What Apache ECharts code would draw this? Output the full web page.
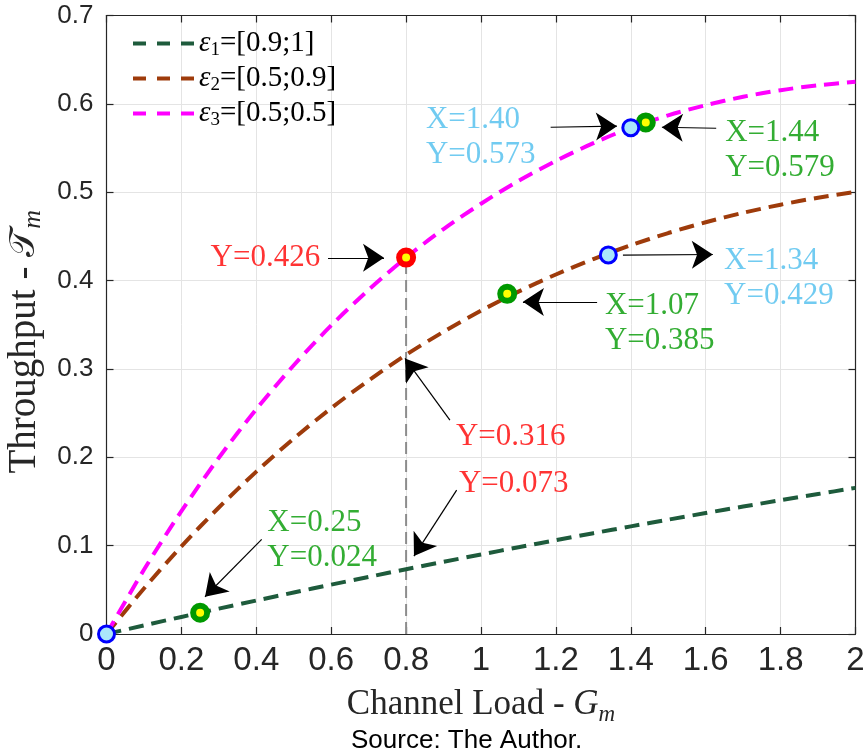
<!DOCTYPE html>
<html>
<head>
<meta charset="utf-8">
<script src="https://cdn.jsdelivr.net/npm/echarts@6/dist/echarts.min.js"></script>
<style>
  html, body { margin: 0; padding: 0; background: #ffffff; }
  #chart { width: 864px; height: 756px; }
</style>
</head>
<body>
<div id="chart"></div>
<script>
// Channel load samples (G_m) shared by the three throughput curves
const channelLoad = [0, 0.1, 0.2, 0.3, 0.4, 0.5, 0.6, 0.7, 0.8, 0.9, 1.0,
                     1.1, 1.2, 1.3, 1.4, 1.5, 1.6, 1.7, 1.8, 1.9, 2.0];

// Throughput T_m for each epsilon range
const throughputEps1 = [0, 0.0097, 0.0193, 0.0287, 0.0379, 0.0470, 0.0559, 0.0646, 0.0733, 0.0817, 0.0900,
                        0.0982, 0.1062, 0.1141, 0.1218, 0.1294, 0.1369, 0.1442, 0.1514, 0.1584, 0.1654];
const throughputEps2 = [0, 0.0515, 0.0992, 0.1432, 0.1838, 0.2212, 0.2556, 0.2870, 0.3160, 0.3421, 0.3659,
                        0.3875, 0.4069, 0.4244, 0.4400, 0.4538, 0.4660, 0.4767, 0.4859, 0.4938, 0.5004];
const throughputEps3 = [0, 0.0727, 0.1391, 0.1995, 0.2544, 0.3042, 0.3492, 0.3896, 0.4260, 0.4583, 0.4870,
                        0.5128, 0.5355, 0.5555, 0.5730, 0.5870, 0.5985, 0.6080, 0.6155, 0.6210, 0.6250];

const seriesNames = ['ε1=[0.9;1]', 'ε2=[0.5;0.9]', 'ε3=[0.5;0.5]'];

// Highlighted operating points
const greenPoints = [[0.25, 0.024], [1.07, 0.385], [1.44, 0.579]];
const bluePoints  = [[0, 0], [1.34, 0.429], [1.40, 0.573]];
const redPoints   = [[0.8, 0.426]];

// Vertical guide at G = 0.8
const guideLoad = 0.8;
const guideTop = 0.426;

// Tick labels
const xTicks = [0, 0.2, 0.4, 0.6, 0.8, 1, 1.2, 1.4, 1.6, 1.8, 2];
const yTicks = [0, 0.1, 0.2, 0.3, 0.4, 0.5, 0.6, 0.7];

const C = {
  eps1: '#1e5b3c', eps2: '#9e3b0b', eps3: '#ff00ff',
  green: '#009900', red: '#ff0000', lightBlue: '#4dbeee',
  axis: '#262626', grid: '#e4e4e4'
};

// Callouts: text block (left edge, vertical centre) and arrow tail -> tip, in data units
const callouts = [
  { lines: ['X=1.40', 'Y=0.573'], color: C.lightBlue, at: [0.853, 0.562], from: [1.186, 0.5735], to: [1.363, 0.5747] },
  { lines: ['X=1.44', 'Y=0.579'], color: C.green,     at: [1.652, 0.547], from: [1.628, 0.5724], to: [1.483, 0.5735] },
  { lines: ['Y=0.426'],           color: C.red,       at: [0.278, 0.4257], from: [0.5915, 0.4257], to: [0.741, 0.4257] },
  { lines: ['X=1.07', 'Y=0.385'], color: C.green,     at: [1.331, 0.3515], from: [1.310, 0.3756], to: [1.112, 0.3759] },
  { lines: ['X=1.34', 'Y=0.429'], color: C.lightBlue, at: [1.649, 0.4024], from: [1.379, 0.4287], to: [1.619, 0.4295] },
  { lines: ['Y=0.316'],           color: C.red,       at: [0.933, 0.2235], from: [0.917, 0.2421], to: [0.797, 0.3119] },
  { lines: ['Y=0.073'],           color: C.red,       at: [0.941, 0.1695], from: [0.935, 0.1629], to: [0.821, 0.0882] },
  { lines: ['X=0.25', 'Y=0.024'], color: C.green,     at: [0.4294, 0.1055], from: [0.4144, 0.1071], to: [0.263, 0.0422] }
];

const serif = '"Liberation Serif", "DejaVu Serif", serif';
const sans = '"Liberation Sans", Arial, sans-serif';
const sansNarrow = '"Liberation Sans Narrow", "Liberation Sans", sans-serif';

// Three-dash sample used as the legend key
const dashedKey = 'path://M0,0h13v4h-13z M24,0h13v4h-13z M48,0h13v4h-13z';

function pairs(xs, ys) { return xs.map((x, i) => [x, ys[i]]); }

const chart = echarts.init(document.getElementById('chart'), null, { renderer: 'canvas' });

const curveStyle = (color) => ({ color: color, width: 4, type: [15, 8] });

const series = [
  { name: seriesNames[0], type: 'line', data: pairs(channelLoad, throughputEps1), smooth: 0.3,
    symbol: 'none', lineStyle: curveStyle(C.eps1), itemStyle: { color: C.eps1 }, z: 3 },
  { name: seriesNames[1], type: 'line', data: pairs(channelLoad, throughputEps2), smooth: 0.3,
    symbol: 'none', lineStyle: curveStyle(C.eps2), itemStyle: { color: C.eps2 }, z: 3 },
  { name: seriesNames[2], type: 'line', data: pairs(channelLoad, throughputEps3), smooth: 0.3,
    symbol: 'none', lineStyle: curveStyle(C.eps3), itemStyle: { color: C.eps3 }, z: 3 },
  { name: 'guide', type: 'line', data: [[guideLoad, 0], [guideLoad, guideTop]], symbol: 'none',
    lineStyle: { color: '#8c8c8c', width: 2, type: [12, 6] }, z: 2, silent: true },
  { name: 'greenMarks', type: 'scatter', data: greenPoints, symbol: 'circle', symbolSize: 14,
    itemStyle: { color: '#ffff00', borderColor: '#009900', borderWidth: 6, opacity: 1 }, z: 6 },
  { name: 'redMarks', type: 'scatter', data: redPoints, symbol: 'circle', symbolSize: 14,
    itemStyle: { color: '#ffff00', borderColor: '#ff0000', borderWidth: 6, opacity: 1 }, z: 6 },
  { name: 'blueMarks', type: 'scatter', data: bluePoints, symbol: 'circle', symbolSize: 16,
    itemStyle: { color: '#aae6fb', borderColor: '#0000ff', borderWidth: 3, opacity: 1 }, z: 6 },
  { name: 'arrows', type: 'lines', coordinateSystem: 'cartesian2d', z: 7,
    symbol: ['none', 'arrow'], symbolSize: [15, 21],
    lineStyle: { color: '#000000', width: 1.2, opacity: 1, curveness: 0 },
    data: callouts.map(c => ({ coords: [c.from, c.to] })) },
  { name: 'callouts', type: 'scatter', symbolSize: 0, z: 8, silent: true,
    data: callouts.map(c => ({
      value: c.at,
      label: {
        show: true, position: 'inside', align: 'left', verticalAlign: 'middle',
        formatter: c.lines.join('\n'), color: c.color,
        fontFamily: serif, fontSize: 31, lineHeight: 35
      }
    })) }
];

const axisLineStyle = { color: C.axis, width: 1.2 };

chart.setOption({
  animation: false,
  backgroundColor: '#ffffff',
  grid: { left: 106.5, right: 8.5, top: 15.5, bottom: 122, containLabel: false, outerBoundsMode: 'none' },
  legend: {
    show: true,
    data: seriesNames.map(n => ({ name: n, icon: dashedKey })),
    orient: 'vertical', left: 128, top: 24,
    itemWidth: 61, itemHeight: 4, itemGap: 4,
    formatter: (name) => {
      const m = /^ε(\d)(.*)$/.exec(name);
      return m ? '{e|ε}{s|' + m[1] + '}{t|' + m[2] + '}' : name;
    },
    textStyle: {
      color: '#000000',
      rich: {
        e: { fontFamily: serif, fontStyle: 'italic', fontSize: 29, lineHeight: 33 },
        s: { fontFamily: serif, fontSize: 19, lineHeight: 24, verticalAlign: 'bottom' },
        t: { fontFamily: serif, fontSize: 29, lineHeight: 33 }
      }
    }
  },
  xAxis: [
    {
      type: 'value', min: 0, max: 2, interval: 0.2,
      name: '{a|Channel Load - }{g|G}{m|m}',
      nameLocation: 'middle', nameGap: 50,
      nameTextStyle: {
        rich: {
          a: { fontFamily: serif, fontSize: 35, color: '#262626', lineHeight: 42 },
          g: { fontFamily: serif, fontStyle: 'italic', fontSize: 35, color: '#262626', lineHeight: 42 },
          m: { fontFamily: serif, fontStyle: 'italic', fontSize: 23, color: '#262626', lineHeight: 27, verticalAlign: 'bottom' }
        }
      },
      axisLine: { show: true, onZero: false, lineStyle: axisLineStyle },
      axisTick: { show: true, inside: true, length: 7, lineStyle: axisLineStyle },
      axisLabel: {
        show: true, margin: 10, color: '#262626', fontFamily: sansNarrow, fontSize: 33,
        formatter: (v) => (xTicks.some(t => Math.abs(t - v) < 1e-9) ? String(+v.toFixed(1)) : '')
      },
      splitLine: { show: true, lineStyle: { color: C.grid, width: 1 } }
    },
    {
      type: 'value', min: 0, max: 2, interval: 0.2, position: 'top',
      axisLine: { show: true, onZero: false, lineStyle: axisLineStyle },
      axisTick: { show: true, inside: true, length: 7, lineStyle: axisLineStyle },
      axisLabel: { show: false }, splitLine: { show: false }
    }
  ],
  yAxis: [
    {
      type: 'value', min: 0, max: 0.7, interval: 0.1,
      name: '{a|Throughput - }{g|𝒯}{m|m}',
      nameLocation: 'middle', nameGap: 56,
      nameTextStyle: {
        padding: [0, 34, 0, 0],
        rich: {
          a: { fontFamily: serif, fontSize: 39, color: '#262626', lineHeight: 44 },
          g: { fontFamily: '"DejaVu Serif", "DejaVu Sans", serif', fontSize: 36, color: '#262626', lineHeight: 44 },
          m: { fontFamily: serif, fontStyle: 'italic', fontSize: 26, color: '#262626', lineHeight: 30, verticalAlign: 'bottom' }
        }
      },
      axisLine: { show: true, onZero: false, lineStyle: axisLineStyle },
      axisTick: { show: true, inside: true, length: 7, lineStyle: axisLineStyle },
      axisLabel: {
        show: true, margin: 13, color: '#262626', fontFamily: sans, fontSize: 26,
        formatter: (v) => (yTicks.some(t => Math.abs(t - v) < 1e-9) ? String(+v.toFixed(1)) : '')
      },
      splitLine: { show: true, lineStyle: { color: C.grid, width: 1 } }
    },
    {
      type: 'value', min: 0, max: 0.7, interval: 0.1, position: 'right',
      axisLine: { show: true, onZero: false, lineStyle: axisLineStyle },
      axisTick: { show: true, inside: true, length: 7, lineStyle: axisLineStyle },
      axisLabel: { show: false }, splitLine: { show: false }
    }
  ],
  graphic: [
    {
      type: 'text', left: 351, top: 728, z: 10,
      style: { text: 'Source: The Author.', fontFamily: sans, fontSize: 26, fill: '#000000' }
    }
  ],
  series: series
});
</script>
</body>
</html>
